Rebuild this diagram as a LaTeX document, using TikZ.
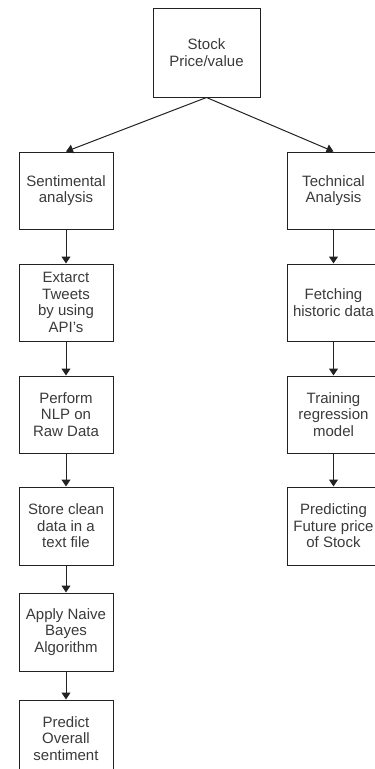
\documentclass[tikz,border=0pt]{standalone}
\usepackage{fontspec}
\setmainfont{Liberation Sans}
\usepackage{tikz}
\usetikzlibrary{arrows.meta}
\usetikzlibrary{positioning}
\definecolor{boxline}{HTML}{222222}
\definecolor{textgray}{HTML}{3A3A3A}
\tikzset{
 stepbox/.style={draw=boxline, line width=1pt, minimum width=94pt, minimum height=77pt, inner sep=0pt, align=center, text=textgray, font=\fontsize{15}{16.5}\selectfont},
 flow/.style={draw=boxline, line width=1pt, ->, >={Triangle[length=7pt,width=9pt]}},
}

\begin{document}
\begin{tikzpicture}[x=1pt,y=1pt]
\useasboundingbox (0,0) rectangle (375,-769);
% root
\node[stepbox, minimum width=107pt, minimum height=89pt] (stock) at (206.5,-52.5) {Stock\\Price/value};
% left branch
\node[stepbox] (senti) at (66,-190.5) {Sentimental\\analysis};
\node[stepbox, below=34pt of senti] (tweets) {Extarct\\Tweets\\by using\\API's};
\node[stepbox, below=34pt of tweets] (nlp) {Perform\\NLP on\\Raw Data};
\node[stepbox, below=33pt of nlp, minimum height=78pt] (store) {Store clean\\data in a\\text file};
\node[stepbox, below=27pt of store, minimum height=78pt] (bayes) {Apply Naive\\Bayes\\Algorithm};
\node[stepbox, below=28pt of bayes] (predict) {Predict\\Overall\\sentiment};
% right branch
\node[stepbox, minimum width=93pt] (tech) at (333.5,-190.5) {Technical\\Analysis};
\node[stepbox, minimum width=93pt, below=34pt of tech] (fetch) {Fetching\\historic data};
\node[stepbox, minimum width=93pt, below=34pt of fetch] (train) {Training\\regression\\model};
\node[stepbox, minimum width=93pt, below=33pt of train, minimum height=78pt] (future) {Predicting\\Future price\\of Stock};

\draw[flow] (stock.south) -- (senti.north);
\draw[flow] (stock.south) -- (tech.north);
\foreach \a/\b in {senti/tweets, tweets/nlp, nlp/store, store/bayes, bayes/predict, tech/fetch, fetch/train, train/future} {
 \draw[flow] (\a) -- (\b);
}
\end{tikzpicture}
\end{document}
